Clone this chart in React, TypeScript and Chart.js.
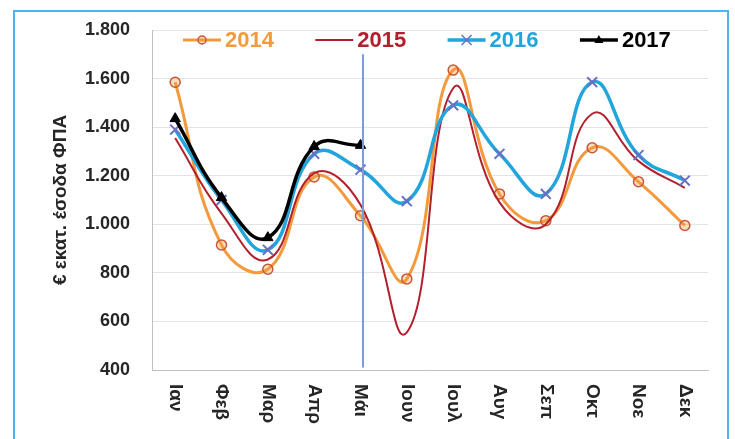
import { useEffect, useRef } from 'react';
import { Chart, registerables } from 'chart.js';

Chart.register(...registerables);

const MONTHS = ['Ιαν', 'Φεβ', 'Μαρ', 'Απρ', 'Μάι', 'Ιουν', 'Ιουλ', 'Αυγ', 'Σεπ', 'Οκτ', 'Νοε', 'Δεκ'];
const SERIES_NAMES = ['2014', '2015', '2016', '2017'];
const VALUES_2014 = [1585, 915, 815, 1195, 1035, 775, 1635, 1125, 1015, 1315, 1175, 995];
const VALUES_2015 = [1355, 1045, 855, 1210, 1080, 555, 1560, 1090, 1000, 1455, 1260, 1150];
const VALUES_2016 = [1390, 1100, 895, 1290, 1225, 1095, 1490, 1290, 1125, 1585, 1285, 1180];
const VALUES_2017 = [1435, 1110, 945, 1320, 1325];
const Y_TICKS = [400, 600, 800, 1000, 1200, 1400, 1600, 1800];
const Y_TITLE = '€ εκατ. έσοδα ΦΠΑ';
const MARKER_MONTH = 'Μάι';
const MARKER_RANGE = [410, 1700];

const FONT = '"Liberation Sans", Arial, sans-serif';
const TEXT = '#262626';

const COLORS = {
  c2014: '#F39A3D',
  c2014Marker: '#C9573A',
  c2015: '#B2202E',
  c2016: '#22A5DC',
  c2016Marker: '#6B6FC4',
  c2017: '#000000',
};

const fmt = (v: number) =>
  v >= 1000 ? `${Math.floor(v / 1000)}.${String(v % 1000).padStart(3, '0')}` : String(v);

function drawMarker(ctx: CanvasRenderingContext2D, style: string, x: number, y: number, r: number, stroke: string, fill: string, lw: number) {
  ctx.save();
  ctx.lineWidth = lw;
  ctx.strokeStyle = stroke;
  ctx.fillStyle = fill;
  ctx.beginPath();
  if (style === 'circle') {
    ctx.arc(x, y, r, 0, Math.PI * 2);
    ctx.fill();
    ctx.stroke();
  } else if (style === 'crossRot') {
    ctx.moveTo(x - r, y - r);
    ctx.lineTo(x + r, y + r);
    ctx.moveTo(x + r, y - r);
    ctx.lineTo(x - r, y + r);
    ctx.stroke();
  } else if (style === 'triangle') {
    ctx.moveTo(x, y - r);
    ctx.lineTo(x + r * 0.9, y + r * 0.6);
    ctx.lineTo(x - r * 0.9, y + r * 0.6);
    ctx.closePath();
    ctx.fill();
  }
  ctx.restore();
}

const xLabelsPlugin = {
  id: 'xLabelsRotated',
  afterDraw(chart: any) {
    const { ctx, chartArea, scales } = chart;
    const xs = scales.x;
    ctx.save();
    ctx.font = `bold 19px ${FONT}`;
    ctx.fillStyle = TEXT;
    ctx.textAlign = 'left';
    ctx.textBaseline = 'middle';
    MONTHS.forEach((m, i) => {
      const px = xs.getPixelForValue(i);
      ctx.save();
      ctx.translate(px, chartArea.bottom + 14);
      ctx.rotate(Math.PI / 2);
      ctx.fillText(m, 0, 0);
      ctx.restore();
    });
    ctx.restore();
  },
};

const markerLinePlugin = {
  id: 'markerLine',
  afterDatasetsDraw(chart: any) {
    const { ctx, scales } = chart;
    const px = scales.x.getPixelForValue(MONTHS.indexOf(MARKER_MONTH)) + 2.5;
    ctx.save();
    ctx.strokeStyle = '#7B9BD6';
    ctx.lineWidth = 2;
    ctx.beginPath();
    ctx.moveTo(px, scales.y.getPixelForValue(MARKER_RANGE[1]));
    ctx.lineTo(px, scales.y.getPixelForValue(MARKER_RANGE[0]));
    ctx.stroke();
    ctx.restore();
  },
};

const legendPlugin = {
  id: 'customLegend',
  afterDraw(chart: any) {
    const { ctx, chartArea } = chart;
    const y = chartArea.top + 10;
    const items = [
      { name: SERIES_NAMES[0], line: COLORS.c2014, lw: 3, marker: 'circle', ms: COLORS.c2014Marker, mf: 'rgba(243,154,61,0.35)', text: COLORS.c2014 },
      { name: SERIES_NAMES[1], line: COLORS.c2015, lw: 2, marker: '', ms: '', mf: '', text: COLORS.c2015 },
      { name: SERIES_NAMES[2], line: COLORS.c2016, lw: 3.5, marker: 'crossRot', ms: COLORS.c2016Marker, mf: 'transparent', text: COLORS.c2016 },
      { name: SERIES_NAMES[3], line: COLORS.c2017, lw: 3.5, marker: 'triangle', ms: '#000', mf: '#000', text: '#000' },
    ];
    ctx.save();
    items.forEach((it, i) => {
      const sx = chartArea.left + 31 + i * 132.3;
      ctx.strokeStyle = it.line;
      ctx.lineWidth = it.lw;
      ctx.beginPath();
      ctx.moveTo(sx, y);
      ctx.lineTo(sx + 38, y);
      ctx.stroke();
      if (it.marker === 'circle') drawMarker(ctx, 'circle', sx + 19, y, 4, it.ms, it.mf, 1.5);
      if (it.marker === 'crossRot') drawMarker(ctx, 'crossRot', sx + 19, y, 5, it.ms, it.mf, 1.5);
      if (it.marker === 'triangle') drawMarker(ctx, 'triangle', sx + 19, y, 5, it.ms, it.mf, 1);
      ctx.font = `bold 22px ${FONT}`;
      ctx.fillStyle = it.text;
      ctx.textAlign = 'left';
      ctx.textBaseline = 'middle';
      ctx.fillText(it.name, sx + 42, y + 1);
    });
    ctx.restore();
  },
};

export default function App() {
  const ref = useRef<HTMLCanvasElement | null>(null);

  useEffect(() => {
    if (!ref.current) return;
    const chart = new Chart(ref.current, {
      type: 'line',
      data: {
        labels: MONTHS,
        datasets: [
          {
            label: SERIES_NAMES[0],
            data: VALUES_2014,
            borderColor: COLORS.c2014,
            borderWidth: 3,
            pointStyle: 'circle',
            pointRadius: 5,
            pointBorderWidth: 1.5,
            pointBorderColor: COLORS.c2014Marker,
            pointBackgroundColor: 'rgba(243,154,61,0.35)',
            order: 3,
          },
          {
            label: SERIES_NAMES[1],
            data: VALUES_2015,
            borderColor: COLORS.c2015,
            borderWidth: 2,
            pointRadius: 0,
            order: 2,
          },
          {
            label: SERIES_NAMES[2],
            data: VALUES_2016,
            borderColor: COLORS.c2016,
            borderWidth: 3.5,
            pointStyle: 'crossRot',
            pointRadius: 7,
            pointBorderWidth: 2,
            pointBorderColor: COLORS.c2016Marker,
            pointBackgroundColor: COLORS.c2016Marker,
            order: 1,
          },
          {
            label: SERIES_NAMES[3],
            data: VALUES_2017,
            borderColor: COLORS.c2017,
            borderWidth: 3.5,
            pointStyle: 'triangle',
            pointRadius: 6,
            pointBorderWidth: 1,
            pointBorderColor: '#000',
            pointBackgroundColor: '#000',
            order: 0,
          },
        ],
      },
      options: {
        responsive: false,
        animation: false,
        layout: { padding: { top: 18, right: 19, left: 0, bottom: 0 } },
        plugins: { legend: { display: false }, tooltip: { enabled: false } },
        elements: { line: { tension: 0.45, fill: false } },
        scales: {
          x: {
            offset: true,
            grid: { display: false },
            border: { display: true, color: '#BFBFBF', width: 1 },
            ticks: { display: false },
            afterFit: (s: any) => {
              s.height = 78;
              s.paddingLeft = 0;
              s.paddingRight = 0;
            },
          },
          y: {
            min: 400,
            max: 1800,
            afterBuildTicks: (s: any) => {
              s.ticks = Y_TICKS.map((v) => ({ value: v }));
            },
            ticks: {
              padding: 22,
              color: TEXT,
              font: { family: FONT, size: 18, weight: 'bold' },
              callback: (v: any) => fmt(Number(v)),
            },
            grid: { color: '#E4E4E4', lineWidth: 1, drawTicks: false },
            border: { display: true, color: '#BFBFBF', width: 1 },
            title: {
              display: true,
              text: Y_TITLE,
              color: TEXT,
              font: { family: FONT, size: 19, weight: 'bold' },
              padding: { top: 34, bottom: 0 },
            },
            afterFit: (s: any) => {
              s.width = 137;
              s.paddingTop = 0;
              s.paddingBottom = 0;
            },
          },
        },
      },
      plugins: [markerLinePlugin, xLabelsPlugin, legendPlugin],
    } as any);
    return () => chart.destroy();
  }, []);

  return (
    <div
      style={{
        position: 'absolute',
        left: 13,
        top: 10,
        width: 716,
        height: 440,
        border: '2px solid #4FB3E6',
        boxSizing: 'border-box',
        background: '#fff',
      }}
    >
      <canvas ref={ref} width={712} height={436} style={{ display: 'block', width: 712, height: 436 }} />
    </div>
  );
}
